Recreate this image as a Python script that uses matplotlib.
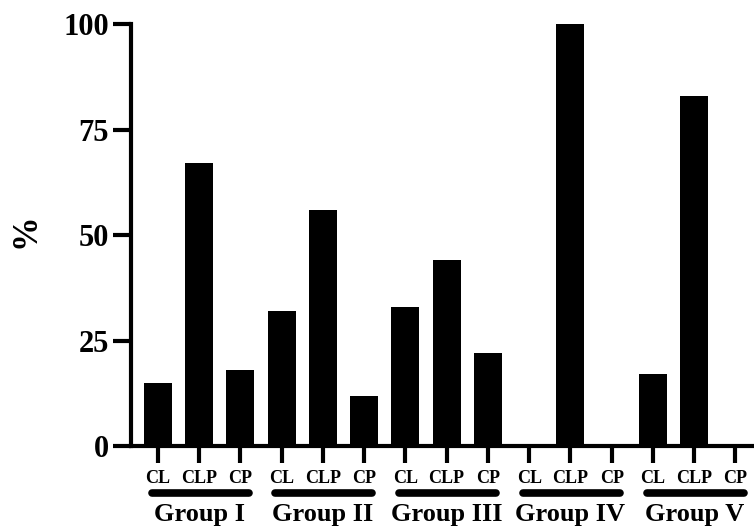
import numpy as np
import matplotlib
matplotlib.use("Agg")
import matplotlib.pyplot as plt
import matplotlib.transforms as mtransforms

# data (%)
groups = ["Group I", "Group II", "Group III", "Group IV", "Group V"]
subtypes = ["CL", "CLP", "CP"]
group_i = [15, 67, 18]
group_ii = [32, 56, 12]
group_iii = [33, 44, 22]
group_iv = [0, 100, 0]
group_v = [17, 83, 0]

values = group_i + group_ii + group_iii + group_iv + group_v
labels = subtypes * len(groups)
x = np.arange(len(values))

plt.rcParams['font.family'] = ['Liberation Serif', 'DejaVu Serif']
plt.rcParams['font.weight'] = 'bold'

fig = plt.figure(figsize=(7.54, 5.28), dpi=100)
ax = fig.add_axes([0.1737, 0.155, 0.8263, 0.7995])

ax.bar(x, values, width=0.68, color='black')

ax.set_xlim(-0.65, 14.45)
ax.set_ylim(0, 100)
ax.set_yticks([0, 25, 50, 75, 100])
ax.set_xticks(x)
ax.set_xticklabels(labels, fontsize=13, fontweight='bold')
ax.tick_params(axis='y', labelsize=22, width=3, length=13, pad=3)
ax.tick_params(axis='x', width=3, length=12, pad=5)
for lbl in ax.get_yticklabels():
    lbl.set_fontweight('bold')

ax.spines['top'].set_visible(False)
ax.spines['right'].set_visible(False)
ax.spines['left'].set_linewidth(3)
ax.spines['bottom'].set_linewidth(3)

fig.text(26 / 754, 1 - 231 / 528, '%', rotation=90, ha='center', va='center',
         fontsize=25, fontweight='bold')

# group underlines and names below the tick labels
trans = mtransforms.blended_transform_factory(ax.transData, ax.transAxes)
for i, g in enumerate(groups):
    start = 3 * i
    ax.plot([start - 0.15, start + 2.2], [-0.112, -0.112], transform=trans,
            color='black', lw=5.5, solid_capstyle='round', clip_on=False)
    ax.text(start + 1, -0.1765, g, transform=trans, ha='center', va='baseline',
            fontsize=19, fontweight='bold')

fig.savefig('out.png', dpi=100)
